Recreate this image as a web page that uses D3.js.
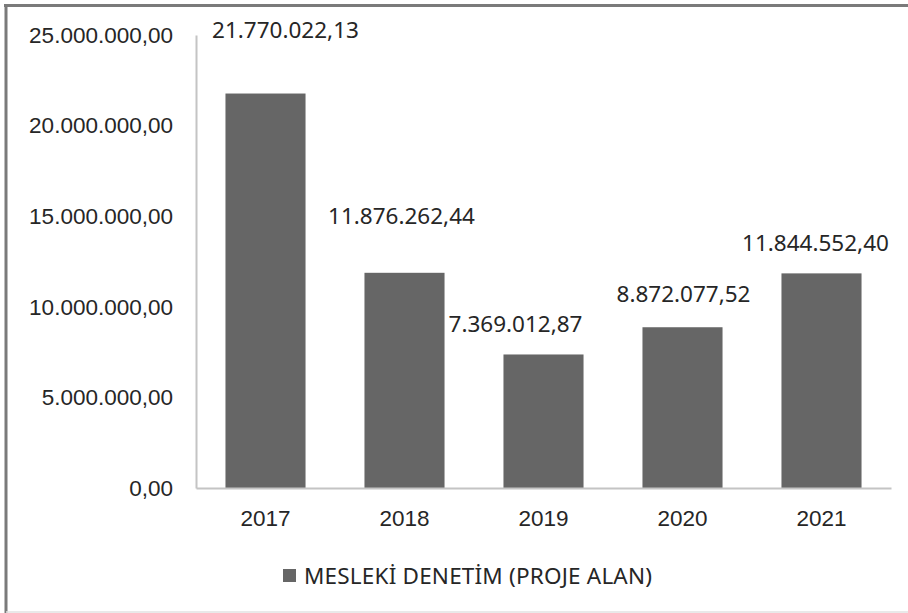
<!DOCTYPE html>
<html>
<head>
<meta charset="utf-8">
<script src="https://cdn.jsdelivr.net/npm/d3@7"></script>
<style>
  body { margin: 0; background: #fff; }
  svg { display: block; font-family: "Noto Sans", sans-serif; }
</style>
</head>
<body>
<script>
'use strict';

// values
const years = ['2017', '2018', '2019', '2020', '2021'];
const amounts = [21770022.13, 11876262.44, 7369012.87, 8872077.52, 11844552.40];
const yTicks = [0, 5000000, 10000000, 15000000, 20000000, 25000000];
const seriesName = 'MESLEKİ DENETİM (PROJE ALAN)';

// hand placed label nudges (pixels: dx from bar centre, y of label centre)
const labelDx = [20, -3, -28, 1, -6];
const labelY = [30, 216, 324, 294, 243];

const width = 908, height = 613;
const margin = { top: 35, right: 17, bottom: 125, left: 196 };

// Turkish number format: 1.234.567,89
const fmt = v => v.toFixed(2).replace('.', ',').replace(/\B(?=(\d{3})+(?!\d))/g, '.');

const svg = d3.select('body').append('svg')
    .attr('width', width)
    .attr('height', height);

// outer frame: dark top/left, faint bottom
svg.append('line')
    .attr('x1', 6).attr('x2', 6).attr('y1', 4).attr('y2', 613)
    .attr('stroke', '#7a7a7a').attr('stroke-width', 3);
svg.append('line')
    .attr('x1', 4).attr('x2', width).attr('y1', 5.5).attr('y2', 5.5)
    .attr('stroke', '#7a7a7a').attr('stroke-width', 3);
svg.append('line')
    .attr('x1', 6).attr('x2', width).attr('y1', 612).attr('y2', 612)
    .attr('stroke', '#e2e2e2').attr('stroke-width', 1.5);

const x = d3.scaleBand()
    .domain(years)
    .range([margin.left, width - margin.right])
    .paddingInner(0.424)
    .paddingOuter(0.212);

const y = d3.scaleLinear()
    .domain([0, 25000000])
    .range([height - margin.bottom, margin.top]);

// y axis
const yAxis = svg.append('g')
    .attr('transform', `translate(${margin.left},0)`)
    .call(d3.axisLeft(y).tickValues(yTicks).tickFormat(fmt).tickSize(0).tickPadding(23));
yAxis.select('.domain').attr('stroke', '#c4c4c4').attr('stroke-width', 2);
yAxis.selectAll('text')
    .attr('fill', '#262626')
    .style('font-size', '22.5px');

// bars
svg.append('g').selectAll('rect')
  .data(amounts)
  .join('rect')
    .attr('x', (d, i) => x(years[i]))
    .attr('y', d => y(d))
    .attr('width', x.bandwidth())
    .attr('height', d => y(0) - y(d))
    .attr('fill', '#666');

// x axis
const xAxis = svg.append('g')
    .attr('transform', `translate(0,${y(0)})`)
    .call(d3.axisBottom(x).tickSize(0).tickPadding(22));
xAxis.select('.domain').attr('stroke', '#c4c4c4').attr('stroke-width', 2);
xAxis.selectAll('text')
    .attr('fill', '#262626')
    .style('font-size', '22.5px');

// value labels
svg.append('g').selectAll('text')
  .data(amounts)
  .join('text')
    .attr('x', (d, i) => x(years[i]) + x.bandwidth() / 2 + labelDx[i])
    .attr('y', (d, i) => labelY[i])
    .attr('dy', '0.35em')
    .attr('text-anchor', 'middle')
    .attr('fill', '#262626')
    .style('font-size', '22.5px')
    .text(fmt);

// legend
const legend = svg.append('g').attr('transform', 'translate(283,576)');
legend.append('rect')
    .attr('x', 0).attr('y', -7)
    .attr('width', 13).attr('height', 13)
    .attr('fill', '#666');
legend.append('text')
    .attr('x', 21).attr('dy', '0.35em')
    .attr('fill', '#262626')
    .style('font-size', '22.5px')
    .attr('textLength', 348)
    .text(seriesName);
</script>
</body>
</html>
